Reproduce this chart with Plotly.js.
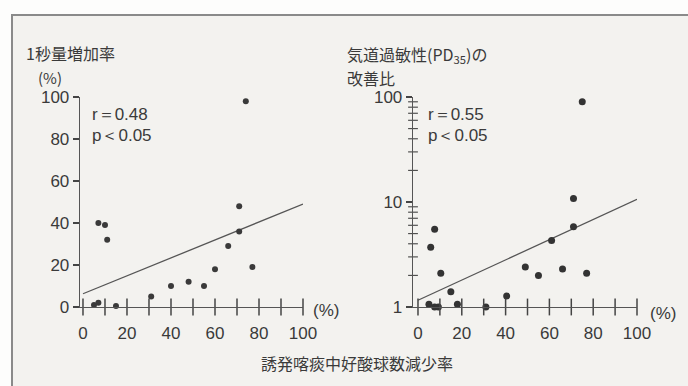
<!DOCTYPE html>
<html>
<head>
<meta charset="utf-8">
<script src="https://cdn.plot.ly/plotly-3.0.1.min.js"></script>
<style>html,body{margin:0;padding:0;background:#fff;}#chart{width:688px;height:386px;}</style>
</head>
<body>
<div id="chart"></div>
<script>
// Left panel: eosinophil decrease rate (%) vs FEV1 increase rate (%)
const leftX = [74, 71, 71, 66, 77, 60, 55, 48, 40, 31, 7, 10, 11, 5, 7, 9, 15, 18];
const leftY = [98, 48, 36, 29, 19, 18, 10, 12, 10, 5, 40, 39, 32, 1, 2, -1, 0.5, -0.5];
const leftFitX = [0, 100];
const leftFitY = [6.3, 49];

// Right panel: eosinophil decrease rate (%) vs PD35 improvement ratio (log)
const rightX = [75, 71, 71, 61, 49, 55, 66, 77, 40.5, 31, 18, 15, 10.4, 7.6, 5.8, 5, 7.6, 9.3];
const rightY = [90, 10.8, 5.8, 4.3, 2.4, 2.0, 2.3, 2.1, 1.27, 1.0, 1.06, 1.4, 2.1, 5.5, 3.7, 1.06, 1.0, 1.0];
const rightFitX = [0, 100];
const rightFitY = [1.16, 10.6];

const xTickVals = [0, 20, 40, 60, 80, 100];
const xTickMarks = [0, 10, 20, 30, 40, 50, 60, 70, 80, 90, 100];
const leftYTicks = [0, 20, 40, 60, 80, 100];
const rightYTicks = [1, 10, 100];
const rightYMinor = [2, 3, 4, 5, 6, 7, 8, 9, 20, 30, 40, 50, 60, 70, 80, 90];

const W = 688, H = 386;
const px = v => v / W;
const py = v => 1 - v / H;

const tickFont = {family: 'Liberation Sans, Arial, sans-serif', size: 17, color: '#3a3a3a'};
const jpFont = {family: 'Noto Sans CJK JP, sans-serif', size: 16, color: '#3a3a3a'};
const lineCol = '#555';

// tick marks drawn as marker traces on the axes' own scales
const xTickMarkY0 = xTickMarks.map(() => 0);
const xTickMarkY1 = xTickMarks.map(() => 1);
const rightMinorX = rightYMinor.map(() => -2.28);

const traces = [
  {x: leftFitX, y: leftFitY, xaxis: 'x', yaxis: 'y', mode: 'lines', line: {color: '#555', width: 1.3}, hoverinfo: 'skip'},
  {x: leftX, y: leftY, xaxis: 'x', yaxis: 'y', mode: 'markers', marker: {color: '#3a3a3a', size: 6}, cliponaxis: false},
  {x: rightFitX, y: rightFitY, xaxis: 'x2', yaxis: 'y2', mode: 'lines', line: {color: '#555', width: 1.3}, hoverinfo: 'skip'},
  {x: rightX, y: rightY, xaxis: 'x2', yaxis: 'y2', mode: 'markers', marker: {color: '#333', size: 7}, cliponaxis: false},
  // x tick marks (vertical line symbols, half above the axis)
  {x: xTickMarks, y: xTickMarkY0, xaxis: 'x', yaxis: 'y', mode: 'markers', cliponaxis: false,
   marker: {symbol: 'line-ns-open', size: 12, color: '#444', line: {color: '#444', width: 1.5}}},
  {x: xTickMarks, y: xTickMarkY1, xaxis: 'x2', yaxis: 'y2', mode: 'markers', cliponaxis: false,
   marker: {symbol: 'line-ns-open', size: 12, color: '#444', line: {color: '#444', width: 1.5}}},
  // minor ticks on the log axis (horizontal line symbols, half left of the axis)
  {x: rightMinorX, y: rightYMinor, xaxis: 'x2', yaxis: 'y2', mode: 'markers', cliponaxis: false,
   marker: {symbol: 'line-ew-open', size: 7, color: '#444', line: {color: '#444', width: 1.1}}}
];

const xCommon = {
  showline: true, linecolor: lineCol, linewidth: 1.3, showgrid: false, zeroline: false,
  ticks: '', tickmode: 'array', tickvals: xTickVals,
  tickfont: tickFont, ticklabelstandoff: 10
};

const layout = {
  width: W, height: H,
  margin: {l: 0, r: 0, t: 0, b: 0},
  paper_bgcolor: '#fdfdfc', plot_bgcolor: 'rgba(0,0,0,0)',
  showlegend: false,
  xaxis: Object.assign({}, xCommon, {domain: [px(80), px(303)], range: [-1.36, 100], anchor: 'y'}),
  yaxis: {
    domain: [py(307), py(97)], range: [0, 100], anchor: 'x',
    showline: true, linecolor: lineCol, linewidth: 1.3, showgrid: false, zeroline: false,
    ticks: 'outside', ticklen: 6, tickcolor: '#444', tickwidth: 1.3,
    tickmode: 'array', tickvals: leftYTicks, tickfont: tickFont
  },
  xaxis2: Object.assign({}, xCommon, {domain: [px(413), px(637)], range: [-2.28, 100], anchor: 'y2'}),
  yaxis2: {
    domain: [py(307), py(97)], type: 'log', range: [0, 2], anchor: 'x2',
    showline: true, linecolor: lineCol, linewidth: 1.3, showgrid: false, zeroline: false,
    ticks: 'outside', ticklen: 6, tickcolor: '#444', tickwidth: 1.3,
    tickmode: 'array', tickvals: rightYTicks, tickfont: tickFont
  },
  shapes: [
    {type: 'rect', xref: 'paper', yref: 'paper', x0: px(12), x1: 1.05, y0: -0.05, y1: py(15),
     line: {color: '#8a8a8a', width: 2}, fillcolor: '#f3f2ef', layer: 'below'}
  ],
  annotations: [
    {text: '1秒量増加率', x: px(24), y: py(53), xref: 'paper', yref: 'paper', xanchor: 'left', yanchor: 'middle', showarrow: false, font: jpFont},
    {text: '(%)', x: px(36), y: py(77), xref: 'paper', yref: 'paper', xanchor: 'left', yanchor: 'middle', showarrow: false, font: {family: 'Noto Sans CJK JP, sans-serif', size: 15, color: '#3a3a3a'}},
    {text: '気道過敏性(PD<sub>35</sub>)の', x: px(345), y: py(54), xref: 'paper', yref: 'paper', xanchor: 'left', yanchor: 'middle', showarrow: false, font: jpFont},
    {text: '改善比', x: px(345), y: py(78), xref: 'paper', yref: 'paper', xanchor: 'left', yanchor: 'middle', showarrow: false, font: jpFont},
    {text: 'r＝0.48', x: px(90), y: py(115), xref: 'paper', yref: 'paper', xanchor: 'left', yanchor: 'middle', showarrow: false, font: tickFont},
    {text: 'p＜0.05', x: px(90), y: py(135), xref: 'paper', yref: 'paper', xanchor: 'left', yanchor: 'middle', showarrow: false, font: tickFont},
    {text: 'r＝0.55', x: px(426), y: py(115), xref: 'paper', yref: 'paper', xanchor: 'left', yanchor: 'middle', showarrow: false, font: tickFont},
    {text: 'p＜0.05', x: px(426), y: py(136), xref: 'paper', yref: 'paper', xanchor: 'left', yanchor: 'middle', showarrow: false, font: tickFont},
    {text: '(%)', x: px(311), y: py(310), xref: 'paper', yref: 'paper', xanchor: 'left', yanchor: 'middle', showarrow: false, font: tickFont},
    {text: '(%)', x: px(648), y: py(313), xref: 'paper', yref: 'paper', xanchor: 'left', yanchor: 'middle', showarrow: false, font: tickFont},
    {text: '誘発喀痰中好酸球数減少率', x: px(357), y: py(363), xref: 'paper', yref: 'paper', xanchor: 'center', yanchor: 'middle', showarrow: false, font: jpFont}
  ]
};

Plotly.newPlot('chart', traces, layout, {staticPlot: true, displayModeBar: false});
</script>
</body>
</html>
